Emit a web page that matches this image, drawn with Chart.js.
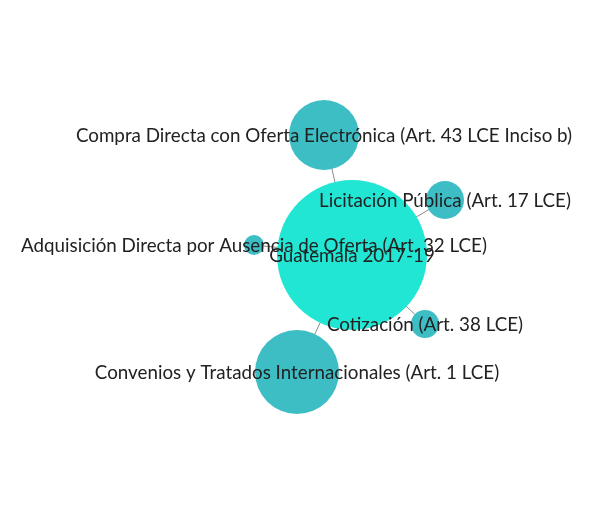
<!DOCTYPE html>
<html>
<head>
<meta charset="utf-8">
<script src="https://cdn.jsdelivr.net/npm/chart.js@4.4.1/dist/chart.umd.min.js"></script>
<style>
html,body{margin:0;padding:0;background:#fff;}
#wrap{width:600px;height:514px;}
</style>
</head>
<body>
<div id="wrap"><canvas id="c" width="600" height="514"></canvas></div>
<script>
// Node data
const nodeNames = [
  "Guatemala 2017-19",
  "Compra Directa con Oferta Electrónica (Art. 43 LCE Inciso b)",
  "Licitación Pública (Art. 17 LCE)",
  "Adquisición Directa por Ausencia de Oferta (Art. 32 LCE)",
  "Cotización (Art. 38 LCE)",
  "Convenios y Tratados Internacionales (Art. 1 LCE)"
];
const nodeX = [352, 324, 445, 254, 425, 297];
const nodeY = [255, 135, 200, 245, 324, 372];
const nodeSize = [75, 35, 19, 10, 14, 42];
const edgeFrom = [0, 0, 0, 0, 0];
const edgeTo = [1, 2, 3, 4, 5];

const FONT = "Lato";
const centerColor = "rgb(33,230,212)";
const leafColor = "rgb(61,189,196)";

const edgeDatasets = edgeFrom.map((f, i) => ({
  type: 'scatter',
  data: [{x: nodeX[f], y: nodeY[f]}, {x: nodeX[edgeTo[i]], y: nodeY[edgeTo[i]]}],
  showLine: true,
  borderColor: '#8a8a8a',
  borderWidth: 1,
  pointRadius: 0,
  order: 2
}));

const bubbleData = nodeNames.map((n, i) => ({x: nodeX[i], y: nodeY[i], r: nodeSize[i]}));

const labelPlugin = {
  id: 'labels',
  afterDatasetsDraw(chart) {
    const ctx = chart.ctx;
    const meta = chart.getDatasetMeta(chart.data.datasets.length - 1);
    ctx.save();
    ctx.font = "18.8px " + FONT;
    ctx.fillStyle = "#222";
    ctx.textAlign = "center";
    ctx.textBaseline = "middle";
    meta.data.forEach((el, i) => {
      ctx.fillText(nodeNames[i], el.x, el.y + 1);
    });
    ctx.restore();
  }
};

new Chart(document.getElementById('c'), {
  type: 'bubble',
  data: {
    datasets: [...edgeDatasets, {
      type: 'bubble',
      data: bubbleData,
      backgroundColor: nodeNames.map((n, i) => i === 0 ? centerColor : leafColor),
      borderWidth: 0,
      hoverRadius: 0,
      order: 1
    }]
  },
  options: {
    responsive: false,
    animation: false,
    layout: {padding: 0, autoPadding: false},
    plugins: {legend: {display: false}, tooltip: {enabled: false}},
    scales: {
      x: {type: 'linear', min: 0, max: 600, display: false},
      y: {type: 'linear', min: 0, max: 514, reverse: true, display: false}
    },
    clip: false
  },
  plugins: [labelPlugin]
});
</script>
</body>
</html>
